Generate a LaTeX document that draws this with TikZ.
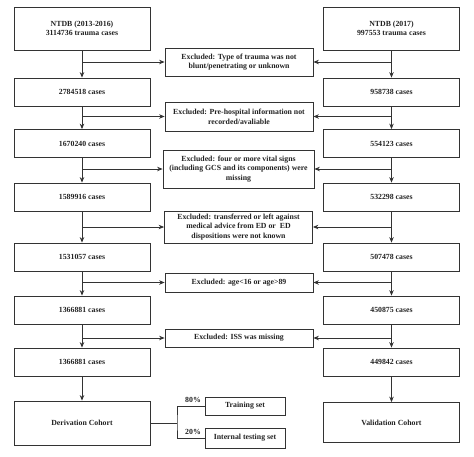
\documentclass[tikz,border=0pt]{standalone}
\usepackage{fontspec}
\setmainfont{Liberation Serif}
\usetikzlibrary{arrows.meta}
\definecolor{ln}{HTML}{333333}
\definecolor{tx}{HTML}{222222}
\begin{document}
\begin{tikzpicture}[x=1pt,y=-1pt,
  box/.style={draw=ln, line width=0.8pt, inner sep=0pt, align=center,
    font=\fontsize{7.8}{9.6}\selectfont\bfseries, text=tx},
  mainbox/.style={box, minimum width=136pt, minimum height=28pt},
  exbox/.style={box, minimum width=148pt},
  arr/.style={draw=ln, line width=0.8pt, -{Stealth[length=5.5pt,width=4.5pt]}},
  conn/.style={draw=ln, line width=0.8pt},
  lab/.style={inner sep=0pt, font=\fontsize{7.8}{9}\selectfont\bfseries, text=tx}]
\useasboundingbox (0,0) rectangle (474,456);
% left column
\node[mainbox, minimum height=43pt] (l0) at (82,28.5) {NTDB (2013-2016)\\3114736 trauma cases};
\node[mainbox] (l1) at (82,92) {2784518 cases};
\node[mainbox] (l2) at (82,143.5) {1670240 cases};
\node[mainbox] (l3) at (82,197) {1589916 cases};
\node[mainbox] (l4) at (82,257) {1531057 cases};
\node[mainbox] (l5) at (82,310) {1366881 cases};
\node[mainbox] (l6) at (82,362) {1366881 cases};
\node[mainbox, minimum height=44pt] (der) at (82,423) {Derivation Cohort};
% right column
\node[mainbox, minimum height=43pt] (r0) at (391.5,28.5) {NTDB (2017)\\997553 trauma cases};
\node[mainbox] (r1) at (391.5,92) {958738 cases};
\node[mainbox] (r2) at (391.5,143.5) {554123 cases};
\node[mainbox] (r3) at (391.5,197) {532298 cases};
\node[mainbox] (r4) at (391.5,257) {507478 cases};
\node[mainbox] (r5) at (391.5,310) {450875 cases};
\node[mainbox] (r6) at (391.5,362) {449842 cases};
\node[mainbox, minimum height=40pt] (val) at (391.5,422.5) {Validation Cohort};
% excluded boxes
\node[exbox, minimum height=28pt] (e1) at (239,62) {Excluded: Type of trauma was not\\blunt/penetrating or unknown};
\node[exbox, minimum height=29pt] (e2) at (239,116.5) {Excluded: Pre-hospital information not\\recorded/avaliable};
\node[exbox, minimum width=151pt, minimum height=38pt] (e3) at (238.5,169) {Excluded: four or more vital signs\\(including GCS and its components) were\\missing};
\node[exbox, minimum height=32pt] (e4) at (238.5,227) {Excluded: transferred or left against\\medical advice from ED or\ \ ED\\dispositions were not known};
\node[exbox, minimum height=19pt] (e5) at (239,282.5) {Excluded: age<16 or age>89};
\node[exbox, minimum height=18pt] (e6) at (239,338) {Excluded: ISS was missing};
% training/testing
\node[box, minimum width=80pt, minimum height=18pt] (train) at (245,406) {Training set};
\node[box, minimum width=80pt, minimum height=20pt] (test) at (245,438) {Internal testing set};
\node[lab] (p80) at (193,400) {80\%};
\node[lab] (p20) at (193,432) {20\%};
% vertical arrows
\foreach \a/\b in {l0/l1,l1/l2,l2/l3,l3/l4,l4/l5,l5/l6,l6/der,r0/r1,r1/r2,r2/r3,r3/r4,r4/r5,r5/r6,r6/val}
  \draw[arr] (\a) -- (\b);
% branch arrows
\foreach \e in {e1,e2,e3,e4,e5,e6}{
  \coordinate (bl\e) at (l0.south |- \e.west);
  \coordinate (br\e) at (r0.south |- \e.east);
  \draw[arr] (bl\e) -- (\e.west);
  \draw[arr] (br\e) -- (\e.east);
}
% fork
\coordinate (fk) at (177,423);
\draw[conn] (der.east) -- (fk);
\draw[conn] (train.west) -| (fk) |- (test.west);
\end{tikzpicture}
\end{document}
